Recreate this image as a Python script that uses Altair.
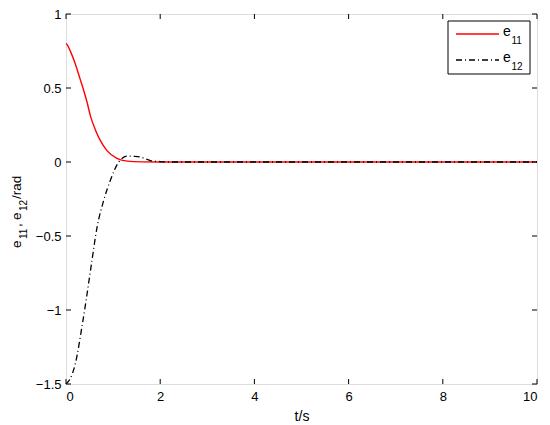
import altair as alt
import pandas as pd

# --- data ---
t_e11 = [0, 0.04, 0.09, 0.2, 0.3, 0.37, 0.45, 0.52, 0.62, 0.73, 0.87, 1.08, 1.3, 1.6, 2.0, 3, 4, 5, 6, 7, 8, 9, 10]
v_e11 = [0.80, 0.785, 0.751, 0.661, 0.56, 0.49, 0.40, 0.31, 0.22, 0.144, 0.077, 0.025, 0.006, 0.001, 0, 0, 0, 0, 0, 0, 0, 0, 0]

t_e12 = [0, 0.08, 0.2, 0.34, 0.41, 0.48, 0.54, 0.66, 0.8, 0.94, 1.12, 1.3, 1.45, 1.58, 1.79, 2.0, 2.3, 3, 4, 5, 6, 7, 8, 9, 10]
v_e12 = [-1.50, -1.47, -1.36, -1.11, -0.97, -0.82, -0.69, -0.44, -0.26, -0.125, 0.0, 0.04, 0.038, 0.033, 0.01, 0.003, 0, 0, 0, 0, 0, 0, 0, 0, 0]

x_ticks = [0, 2, 4, 6, 8, 10]
y_ticks = [-1.5, -1, -0.5, 0, 0.5, 1]

W, H = 471, 370
TOP = 14  # absolute y of the plot top (8px page margin + 6px padding)
LEFT = 66
FONT = "Liberation Sans"

df11 = pd.DataFrame({"t": t_e11, "v": v_e11})
df12 = pd.DataFrame({"t": t_e12, "v": v_e12})
dxt = pd.DataFrame({"t": x_ticks})
dyt = pd.DataFrame({"v": y_ticks})

xs = alt.Scale(domain=[0, 10], nice=False)
ys = alt.Scale(domain=[-1.5, 1], nice=False)

xaxis = alt.Axis(values=x_ticks, format="~f", domain=False, ticks=False, grid=False,
                 labelFont=FONT, labelFontSize=13, labelColor="black", labelPadding=6,
                 title="t/s", titleFont=FONT, titleFontSize=14, titleFontWeight="normal",
                 titleColor="black", titlePadding=6)
yaxis = alt.Axis(values=y_ticks, format="~f", domain=False, ticks=False, grid=False,
                 labelFont=FONT, labelFontSize=13, labelColor="black", labelPadding=5,
                 title=None)

line11 = alt.Chart(df11).mark_line(color="#ff0000", strokeWidth=1.4, interpolate="monotone").encode(
    x=alt.X("t:Q", scale=xs, axis=xaxis),
    y=alt.Y("v:Q", scale=ys, axis=yaxis),
)
line12 = alt.Chart(df12).mark_line(color="black", strokeWidth=1.3, strokeDash=[6, 3, 1, 3],
                                   interpolate="monotone").encode(
    x=alt.X("t:Q", scale=xs),
    y=alt.Y("v:Q", scale=ys),
)

# inward ticks (MATLAB style box)
tb = alt.Chart(dxt).mark_rule(color="black", strokeWidth=1).encode(
    x=alt.X("t:Q", scale=xs), y=alt.value(H), y2=alt.value(H - 5))
tt = alt.Chart(dxt).mark_rule(color="black", strokeWidth=1).encode(
    x=alt.X("t:Q", scale=xs), y=alt.value(0), y2=alt.value(5))
tl = alt.Chart(dyt).mark_rule(color="black", strokeWidth=1).encode(
    y=alt.Y("v:Q", scale=ys), x=alt.value(0), x2=alt.value(5))
tr = alt.Chart(dyt).mark_rule(color="black", strokeWidth=1).encode(
    y=alt.Y("v:Q", scale=ys), x=alt.value(W), x2=alt.value(W - 5))

one = alt.Data(values=[{"a": 1}])

def txt(s, x, y, size, angle=0, baseline="middle"):
    return alt.Chart(one).mark_text(align="left", baseline=baseline, font=FONT, angle=angle,
                                    fontSize=size, color="black").encode(
        x=alt.value(x), y=alt.value(y), text=alt.value(s))

# legend
lx0, ly0, lx1, ly1 = 448 - LEFT, 21 - TOP, 530 - LEFT, 74 - TOP
lbox = alt.Chart(one).mark_rect(fill="white", stroke="black", strokeWidth=1).encode(
    x=alt.value(lx0), x2=alt.value(lx1), y=alt.value(ly0), y2=alt.value(ly1))
lr1 = alt.Chart(one).mark_rule(color="#ff0000", strokeWidth=1.4).encode(
    x=alt.value(456 - LEFT), x2=alt.value(499 - LEFT), y=alt.value(34 - TOP))
lr2 = alt.Chart(one).mark_rule(color="black", strokeWidth=1.3, strokeDash=[6, 3, 1, 3]).encode(
    x=alt.value(456 - LEFT), x2=alt.value(499 - LEFT), y=alt.value(60 - TOP))
legend = [lbox, lr1, lr2,
          txt("e", 503 - LEFT, 32 - TOP, 14), txt("11", 511.5 - LEFT, 41 - TOP, 10),
          txt("e", 503 - LEFT, 58 - TOP, 14), txt("12", 511.5 - LEFT, 67 - TOP, 10)]

# y-axis title "e11, e12/rad" with real-looking subscripts, rotated
MB = 20.5 - LEFT   # main baseline x
SB = 26.5 - LEFT   # subscript baseline x
ytitle = [
    txt("e", MB, 248 - TOP, 13.5, 270, "alphabetic"),
    txt("11", SB, 239 - TOP, 10, 270, "alphabetic"),
    txt(",", MB, 227 - TOP, 13.5, 270, "alphabetic"),
    txt("e", MB, 220 - TOP, 13.5, 270, "alphabetic"),
    txt("12", SB, 211 - TOP, 10, 270, "alphabetic"),
    txt("/rad", MB, 199 - TOP, 13.5, 270, "alphabetic"),
]

chart = alt.layer(line11, line12, tb, tt, tl, tr, *legend, *ytitle).properties(
    width=W, height=H,
    autosize=alt.AutoSizeParams(type="none"),
    padding={"left": LEFT - 8, "top": TOP - 8, "right": 5, "bottom": 40},
).configure_view(stroke="black", strokeWidth=1).configure(background="white")

chart.save("out.html", embed_options={"renderer": "svg", "actions": False})
